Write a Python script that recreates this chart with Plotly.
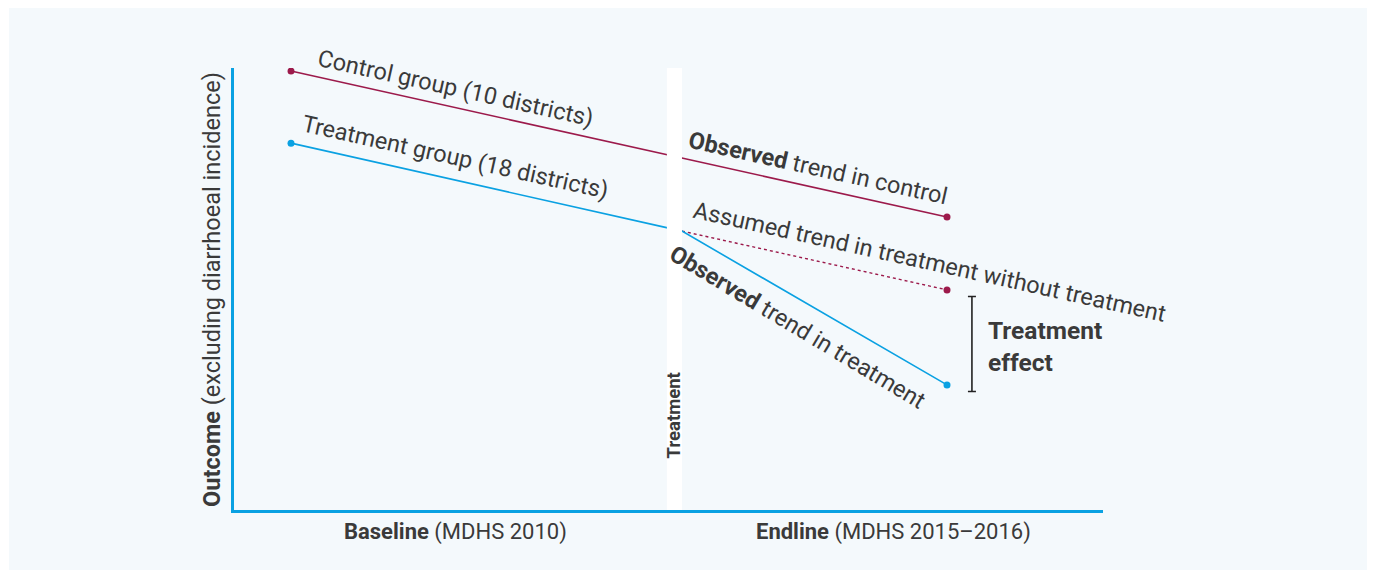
import plotly.graph_objects as go

# ---- data (conceptual outcome units) ----
period_x = [0.0, 0.596, 1.0]          # baseline, treatment start, endline
period_labels = ["Baseline", "Treatment", "Endline"]
control_x = [0.0, 1.0]
control_y = [9.93, 6.63]
treatment_x = [0.0, 0.596, 1.0]
treatment_y = [8.30, 6.31, 2.83]
counterfactual_x = [0.596, 1.0]
counterfactual_y = [6.31, 4.98]

MAROON = "#9c1a4b"
BLUE = "#0aa1e2"
TEXT = "#3a3a3a"
PANEL = "#f4f9fc"
FONT = "Roboto, Arial, sans-serif"

fig = go.Figure()

fig.add_trace(go.Scatter(x=control_x, y=control_y, mode="lines",
                         line=dict(color=MAROON, width=1.6), hoverinfo="skip"))
fig.add_trace(go.Scatter(x=counterfactual_x, y=counterfactual_y, mode="lines",
                         line=dict(color=MAROON, width=1.4, dash="dot"), hoverinfo="skip"))
fig.add_trace(go.Scatter(x=treatment_x, y=treatment_y, mode="lines",
                         line=dict(color=BLUE, width=1.6), hoverinfo="skip"))
# end-point markers
fig.add_trace(go.Scatter(x=control_x + [counterfactual_x[-1]],
                         y=control_y + [counterfactual_y[-1]], mode="markers",
                         marker=dict(color=MAROON, size=7), hoverinfo="skip"))
fig.add_trace(go.Scatter(x=[treatment_x[0], treatment_x[-1]],
                         y=[treatment_y[0], treatment_y[-1]], mode="markers",
                         marker=dict(color=BLUE, size=7), hoverinfo="skip"))

# treatment-effect bracket from endline values
effect = counterfactual_y[-1] - treatment_y[-1]
fig.add_trace(go.Scatter(x=[1.038], y=[treatment_y[-1] + effect / 2 - 0.15], mode="markers",
                         marker=dict(size=0.1, color="rgba(0,0,0,0)"),
                         error_y=dict(type="constant", value=effect / 2, color="#222",
                                      thickness=1.6, width=4),
                         hoverinfo="skip"))

# panel background
fig.add_shape(type="rect", xref="paper", yref="paper", x0=-0.2589, x1=1.3061,
              y0=-0.1357, y1=1.1357, fillcolor=PANEL, line=dict(width=0), layer="below")
# white treatment band
tx = period_x[1]
fig.add_shape(type="rect", xref="x", yref="y", x0=tx - 0.023, x1=tx, y0=0, y1=10.1,
              fillcolor="white", line=dict(width=0), layer="above")

ann = []
def a(text, x, y, angle=0, size=23.5, xref="x", yref="y", xanchor="center", align="center"):
    ann.append(dict(text=text, x=x, y=y, xref=xref, yref=yref, textangle=angle,
                    showarrow=False, xanchor=xanchor, yanchor="middle", align=align,
                    font=dict(family=FONT, size=size, color=TEXT)))

a("Control group (10 districts)", 0.25, 9.55, 12.5)
a("Treatment group (18 districts)", 0.25, 7.99, 12.5)
a("<b>Observed</b> trend in control", 0.803, 7.74, 12.5)
a("Assumed trend in treatment without treatment", 0.974, 5.61, 12.5)
a("<b>Observed</b> trend in treatment", 0.772, 4.14, 31)
a("<b>Treatment<br>effect</b>", 1.059, 3.71, 0, size=24.5, xanchor="left", align="left")
a("<b>Treatment</b>", tx - 0.0115, 2.15, -90, size=18.5)
a("<b>Outcome</b> (excluding diarrhoeal incidence)", -0.0253, 0.498, -90, size=23.5,
  xref="paper", yref="paper")
a("<b>Baseline</b> (MDHS 2010)", period_x[0] + 0.25, -0.05, 0, size=22, yref="paper")
a("<b>Endline</b> (MDHS 2015–2016)", period_x[2] - 0.082, -0.05, 0, size=22, yref="paper")

# page body has an 8px margin: figure is sized/offset to compensate
fig.update_layout(
    width=1367, height=569,
    margin=dict(l=226, r=272, t=60, b=67),
    paper_bgcolor="white", plot_bgcolor=PANEL,
    showlegend=False, annotations=ann,
    xaxis=dict(range=[-0.0869, 1.2378], showgrid=False, zeroline=False, showticklabels=False,
               ticks="", showline=True, linecolor=BLUE, linewidth=3),
    yaxis=dict(range=[0, 10], showgrid=False, zeroline=False, showticklabels=False,
               ticks="", showline=True, linecolor=BLUE, linewidth=3),
)

fig.write_html("out.html")
